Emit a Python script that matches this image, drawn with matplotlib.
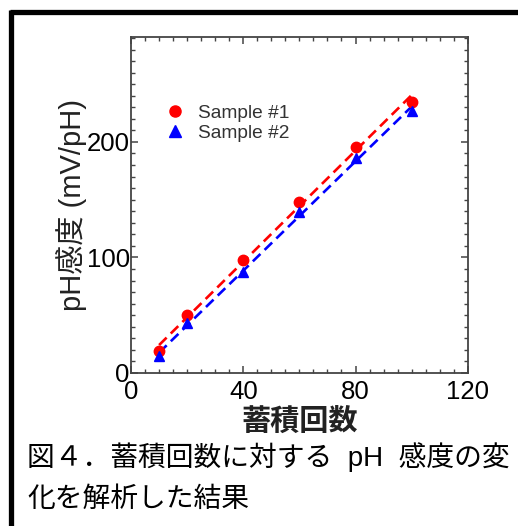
import numpy as np
import matplotlib.pyplot as plt
from matplotlib.lines import Line2D
from matplotlib.ticker import MultipleLocator

plt.rcParams['font.family'] = ['Liberation Sans', 'Noto Sans CJK JP', 'DejaVu Sans']

# data
counts = [10, 20, 40, 60, 80, 100]
sample1 = [19, 50, 98, 148, 196, 235]
sample2 = [15, 43, 87, 139, 186, 227]
labels = ['Sample #1', 'Sample #2']
x_ticks = [0, 40, 80, 120]
y_ticks = [0, 100, 200]

fig = plt.figure(figsize=(5.18, 5.26), dpi=100)
ax = fig.add_axes([0.253, 0.291, 0.650, 0.639])

x = np.array(counts)
for y, col, mk, lab in [(sample1, 'red', 'o', labels[0]),
                        (sample2, 'blue', '^', labels[1])]:
    ax.plot(x, y, mk, color=col, markersize=7.5, label=lab, zorder=3)
    k, b = np.polyfit(x, y, 1)
    ax.plot(x, k * x + b, '--', color=col, linewidth=1.9, dashes=(4, 2.2), zorder=2)

ax.set_xlim(0, 120)
ax.set_ylim(0, 291)
ax.set_xticks(x_ticks)
ax.set_yticks(y_ticks)
ax.xaxis.set_minor_locator(MultipleLocator(5))
ax.yaxis.set_minor_locator(MultipleLocator(10))
ax.tick_params(which='both', direction='in', top=True, right=True,
               color='#444444', labelsize=18.5)
ax.tick_params(which='major', length=5, width=1.1)
ax.tick_params(which='minor', length=3, width=1.0)
ax.tick_params(axis='x', pad=5)
ax.tick_params(axis='y', pad=1)
for s in ax.spines.values():
    s.set_color('#444444')
    s.set_linewidth(1.3)

ax.set_xlabel('蓄積回数', fontsize=21, fontweight='bold', labelpad=3, color='#222222')
ax.set_ylabel('pH感度 (mV/pH)', fontsize=21, labelpad=0, color='#222222')

handles = [Line2D([], [], marker='o', color='red', linestyle='', markersize=8),
           Line2D([], [], marker='^', color='blue', linestyle='', markersize=8)]
leg = ax.legend(handles, labels, loc='upper left', bbox_to_anchor=(0.045, 0.85),
                frameon=False, fontsize=13.8, handletextpad=0.6, labelspacing=0.15,
                handlelength=1.2)
for t in leg.get_texts():
    t.set_color('#333333')

# caption
fig.text(0.052, 0.131, '図４．蓄積回数に対する  pH  感度の変', fontsize=20,
         va='center', ha='left')
fig.text(0.052, 0.050, '化を解析した結果', fontsize=20,
         va='center', ha='left')

# frame border of the cropped figure box
fig.add_artist(Line2D([0.019, 1.0], [1 - 12 / 526, 1 - 12 / 526], color='black',
                      linewidth=3.8, transform=fig.transFigure, solid_capstyle='butt'))
fig.add_artist(Line2D([10.5 / 518, 10.5 / 518], [0, 1 - 10 / 526], color='black',
                      linewidth=3.8, transform=fig.transFigure, solid_capstyle='butt'))

fig.savefig('out.png', dpi=100)
